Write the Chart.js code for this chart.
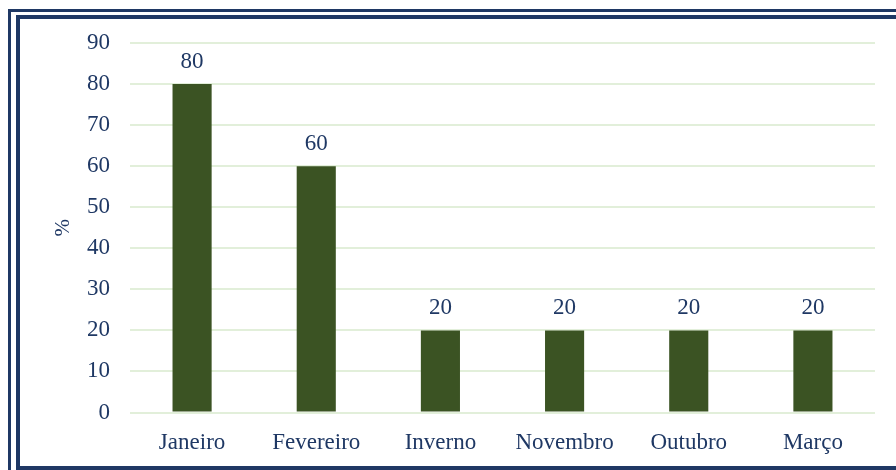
<!DOCTYPE html>
<html>
<head>
<meta charset="utf-8">
<script src="https://cdn.jsdelivr.net/npm/chart.js@4"></script>
<style>
  html, body { margin: 0; padding: 0; background: #ffffff; overflow: hidden; }
  #wrap { position: relative; width: 896px; height: 470px; overflow: hidden; }
  .b1 { position: absolute; left: 8px; top: 9px; width: 1000px; height: 1000px; border: 3px solid #1F3864; box-sizing: border-box; }
  .b2 { position: absolute; left: 16px; top: 15px; width: 1000px; height: 455px; border: 4px solid #1F3864; box-sizing: border-box; }
  canvas { position: absolute; left: 0; top: 0; }
</style>
</head>
<body>
<div id="wrap">
  <div class="b1"></div>
  <div class="b2"></div>
  <canvas id="c" width="896" height="470"></canvas>
</div>
<script>
const categories = ["Janeiro", "Fevereiro", "Inverno", "Novembro", "Outubro", "Março"];
const values = [80, 60, 20, 20, 20, 20];
const yTitle = "%";
const yMin = 0, yMax = 90, yStep = 10;

const textColor = "#1F3864";
const barColor = "#3B5323";
const gridColor = "#E2EFDA";
const fontFamily = "'Liberation Serif', 'Times New Roman', serif";

const dataLabels = {
  id: "dataLabels",
  afterDatasetsDraw(chart) {
    const ctx = chart.ctx;
    const meta = chart.getDatasetMeta(0);
    ctx.save();
    ctx.font = "23px " + fontFamily;
    ctx.fillStyle = textColor;
    ctx.textAlign = "center";
    ctx.textBaseline = "alphabetic";
    meta.data.forEach((el, i) => {
      ctx.fillText(String(values[i]), el.x, el.y - 16);
    });
    ctx.restore();
  }
};

new Chart(document.getElementById("c"), {
  type: "bar",
  data: {
    labels: categories,
    datasets: [{
      data: values,
      backgroundColor: barColor,
      borderWidth: 0,
      barPercentage: 0.315,
      categoryPercentage: 1.0
    }]
  },
  options: {
    responsive: false,
    animation: false,
    devicePixelRatio: 1,
    layout: { padding: { left: 0, right: 21, top: 43, bottom: 0 } },
    plugins: { legend: { display: false }, tooltip: { enabled: false } },
    scales: {
      x: {
        grid: { display: false, drawTicks: false },
        border: { display: false },
        ticks: { color: textColor, font: { family: fontFamily, size: 23 }, padding: 17, maxRotation: 0 },
        afterFit(scale) { scale.height = 57.5; }
      },
      y: {
        min: yMin, max: yMax,
        grid: { color: gridColor, lineWidth: 2, drawTicks: false },
        border: { display: false },
        ticks: { stepSize: yStep, color: textColor, font: { family: fontFamily, size: 23 }, padding: 20 },
        title: { display: true, text: yTitle, color: textColor, font: { family: fontFamily, size: 21 }, padding: { top: 51, bottom: 0 } },
        afterFit(scale) { scale.width = 130; }
      }
    }
  },
  plugins: [dataLabels]
});
</script>
</body>
</html>
